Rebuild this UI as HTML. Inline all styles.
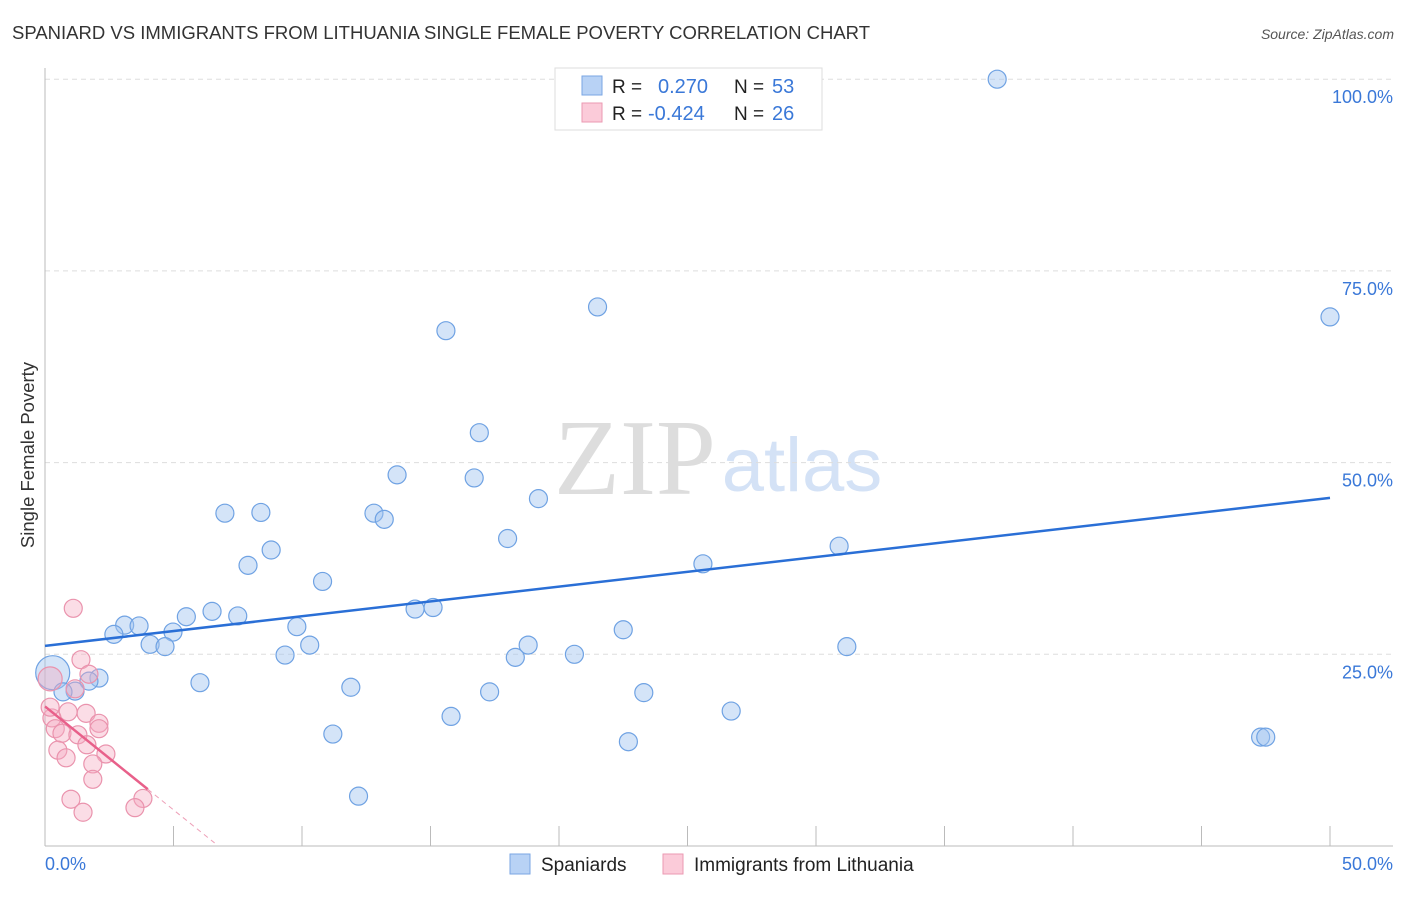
<!DOCTYPE html>
<html><head><meta charset="utf-8"><style>
body{margin:0;background:#fff;font-family:"Liberation Sans",sans-serif}
</style></head><body>
<svg width="1406" height="892" id="svg" xmlns="http://www.w3.org/2000/svg">
<text x="12" y="39" font-size="18" fill="#333" textLength="858" lengthAdjust="spacingAndGlyphs">SPANIARD VS IMMIGRANTS FROM LITHUANIA SINGLE FEMALE POVERTY CORRELATION CHART</text>
<text x="1394" y="39" font-size="14" fill="#555" font-style="italic" text-anchor="end">Source: ZipAtlas.com</text>
<text x="34" y="455" font-size="18.5" fill="#333" transform="rotate(-90 34 455)" text-anchor="middle">Single Female Poverty</text>
<text x="635" y="494" font-size="108" fill="#ddd" font-family="Liberation Serif,serif" text-anchor="middle">ZIP</text>
<text x="802" y="491" font-size="76" fill="#d4e2f6" text-anchor="middle">atlas</text>
<g id="grid"></g><g id="marks"></g>
<g>
<rect x="555" y="68" width="267" height="62" fill="#fff" stroke="#ddd"/>
<rect x="582" y="76" width="20" height="19" fill="#b8d2f5" stroke="#7aa6e3"/>
<rect x="582" y="103" width="20" height="19" fill="#fbcbd9" stroke="#eb9ab2"/>
<text x="612" y="93" font-size="19" fill="#222">R =</text>
<text x="658" y="93" font-size="20" fill="#3a78d8">0.270</text>
<text x="734" y="93" font-size="19" fill="#222">N =</text>
<text x="772" y="93" font-size="20" fill="#3a78d8">53</text>
<text x="612" y="120" font-size="19" fill="#222">R =</text>
<text x="648" y="120" font-size="20" fill="#3a78d8">-0.424</text>
<text x="734" y="120" font-size="19" fill="#222">N =</text>
<text x="772" y="120" font-size="20" fill="#3a78d8">26</text>
</g>
<g>
<rect x="510" y="854" width="20" height="20" fill="#b8d2f5" stroke="#7aa6e3"/>
<text x="541" y="871" font-size="19" fill="#222">Spaniards</text>
<rect x="663" y="854" width="20" height="20" fill="#fbcbd9" stroke="#eb9ab2"/>
<text x="694" y="871" font-size="19" fill="#222">Immigrants from Lithuania</text>
</g>
<text x="45" y="870" font-size="18" fill="#3a78d8">0.0%</text>
<text x="1393" y="870" font-size="18" fill="#3a78d8" text-anchor="end">50.0%</text>
</svg>
<script>
const yTicks=[25,50,75,100];
const yTickLabels=["25.0%","50.0%","75.0%","100.0%"];
const blueX=[37.05,21.5,50,15.6,16.9,13.7,16.7,19.2,7.0,8.4,12.8,13.2,18.0,30.9,8.8,7.9,25.6,10.8,6.5,7.5,14.4,15.1,5.5,9.8,4.98,3.1,3.66,22.5,10.3,18.8,31.2,2.68,4.09,4.67,9.34,20.6,18.3,0.3,6.03,11.9,2.1,1.71,17.3,23.3,1.17,0.7,15.8,26.7,11.2,22.7,47.3,47.5,12.2];
const blueY=[100,70.3,69,67.2,53.9,48.4,48,45.3,43.4,43.5,43.4,42.6,40.1,39.1,38.6,36.6,36.8,34.5,30.6,30,30.9,31.1,29.9,28.6,27.9,28.8,28.7,28.2,26.2,26.2,26,27.6,26.3,26,24.9,25,24.6,22.6,21.3,20.7,21.9,21.5,20.1,20,20.2,20.1,16.9,17.6,14.6,13.6,14.2,14.2,6.5];
const blueR=[9,9,9,9,9,9,9,9,9,9,9,9,9,9,9,9,9,9,9,9,9,9,9,9,9,9,9,9,9,9,9,9,9,9,9,9,9,17,9,9,9,9,9,9,9,9,9,9,9,9,9,9,9];
const pinkX=[1.1,1.4,1.71,1.17,0.2,0.9,1.6,0.27,2.1,2.1,0.4,0.66,1.28,1.63,0.5,2.37,0.82,1.86,1.86,1.01,1.48,3.81,3.5,0.2];
const pinkY=[31.0,24.3,22.4,20.5,21.8,17.5,17.3,16.7,16.0,15.3,15.3,14.7,14.5,13.2,12.5,12.0,11.5,10.7,8.7,6.1,4.4,6.2,5.0,18.1];
const pinkR=[9,9,9,9,12,9,9,9,9,9,9,9,9,9,9,9,9,9,9,9,9,9,9,9];
const blueTrend=[0,26.1,50,45.4];
const pinkTrendSolid=[0,18.2,4.0,7.4];
const pinkTrendDash=[4.0,7.4,6.6,0.4];
const xs=v=>45+v*25.7, ys=v=>846-v*7.668;
const NS="http://www.w3.org/2000/svg";
const g=document.getElementById('grid'),m=document.getElementById('marks');
function mk(t,a,p){const e=document.createElementNS(NS,t);for(const k in a)e.setAttribute(k,a[k]);p.appendChild(e);return e;}
yTicks.forEach((t,i)=>{
 const l=mk('line',{x1:45,x2:1393,y1:ys(t),y2:ys(t),stroke:'#ddd','stroke-dasharray':'5,4'},g);
 
 
 const tx=mk('text',{x:1393,y:ys(t)+24,'font-size':18,fill:'#3a78d8','text-anchor':'end'},g);
 tx.textContent=yTickLabels[i];
 
 
});
const ax=mk('line',{x1:45,x2:1393,y1:846,y2:846,stroke:'#bbb'},g);


const ay=mk('line',{x1:45,x2:45,y1:68,y2:846,stroke:'#bbb'},g);


for(let i=1;i<=10;i++){const t=mk('line',{x1:xs(i*5),x2:xs(i*5),y1:826,y2:846,stroke:'#bbb'},g);
 
 }
blueX.forEach((x,i)=>{const c=mk('circle',{cx:xs(x),cy:ys(blueY[i]),r:blueR[i],fill:'rgba(160,196,240,0.45)',stroke:'#6fa2e3','stroke-width':1.2},m);
 
 });
pinkX.forEach((x,i)=>{const c=mk('circle',{cx:xs(x),cy:ys(pinkY[i]),r:pinkR[i],fill:'rgba(246,170,192,0.4)',stroke:'#ea93ad','stroke-width':1.2},m);
 
 });
const bl=mk('line',{x1:xs(blueTrend[0]),y1:ys(blueTrend[1]),x2:xs(blueTrend[2]),y2:ys(blueTrend[3]),stroke:'#2a6fd6','stroke-width':2.5},m);


const pl=mk('line',{x1:xs(pinkTrendSolid[0]),y1:ys(pinkTrendSolid[1]),x2:xs(pinkTrendSolid[2]),y2:ys(pinkTrendSolid[3]),stroke:'#e8608a','stroke-width':2.5},m);


const pd=mk('line',{x1:xs(pinkTrendDash[0]),y1:ys(pinkTrendDash[1]),x2:xs(pinkTrendDash[2]),y2:ys(pinkTrendDash[3]),stroke:'#eea0b8','stroke-width':1,'stroke-dasharray':'5,4'},m);


</script>
</body></html>
